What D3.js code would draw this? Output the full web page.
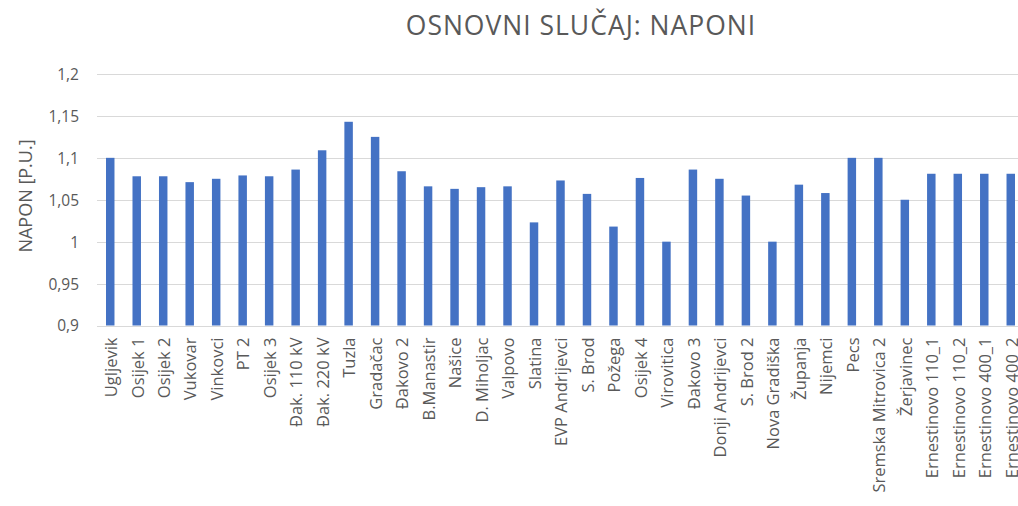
<!DOCTYPE html>
<html>
<head>
<meta charset="utf-8">
<script src="https://d3js.org/d3.v7.min.js"></script>
<style>
	body { margin: 0; background: #fff; }
	text { font-family: "Open Sans", "Noto Sans", sans-serif; fill: #595959; }
</style>
</head>
<body>
<script>
// substations (x axis categories)
var stations = ["Ugljevik", "Osijek 1", "Osijek 2", "Vukovar", "Vinkovci", "PT 2", "Osijek 3",
	"Đak. 110 kV", "Đak. 220 kV", "Tuzla", "Gradačac", "Đakovo 2", "B.Manastir", "Našice",
	"D. Miholjac", "Valpovo", "Slatina", "EVP Andrijevci", "S. Brod", "Požega", "Osijek 4",
	"Virovitica", "Đakovo 3", "Donji Andrijevci", "S. Brod 2", "Nova Gradiška", "Županja",
	"Nijemci", "Pecs", "Sremska Mitrovica 2", "Žerjavinec", "Ernestinovo 110_1",
	"Ernestinovo 110_2", "Ernestinovo 400_1", "Ernestinovo 400_2"];

// voltage in p.u.
var napon = [1.100, 1.078, 1.078, 1.071, 1.075, 1.079, 1.078,
	1.086, 1.109, 1.143, 1.125, 1.084, 1.066, 1.063,
	1.065, 1.066, 1.023, 1.073, 1.057, 1.018, 1.076,
	1.000, 1.086, 1.075, 1.055, 1.000, 1.068,
	1.058, 1.100, 1.100, 1.050, 1.081,
	1.081, 1.081, 1.081];

var yTicks = [0.9, 0.95, 1, 1.05, 1.1, 1.15, 1.2];
var title = "OSNOVNI SLUČAJ: NAPONI";
var yTitle = "NAPON [P.U.]";

var W = 1018, H = 506;
var plotLeft = 97, plotRight = 1024, plotTop = 74, plotBottom = 325.5;

var svg = d3.select("body").append("svg")
	.attr("width", W)
	.attr("height", H);

var x = d3.scaleBand()
	.domain(stations)
	.range([plotLeft, plotRight])
	.paddingInner(0.68)
	.paddingOuter(0.34);

var y = d3.scaleLinear()
	.domain([0.9, 1.2])
	.range([plotBottom, plotTop]);

var fmt = function(d) { return d3.format("~g")(d).replace(".", ","); };

// gridlines
svg.append("g")
	.selectAll("line")
	.data(yTicks)
	.enter().append("line")
	.attr("x1", plotLeft)
	.attr("x2", plotRight)
	.attr("y1", function(d) { return Math.round(y(d)) + 0.5; })
	.attr("y2", function(d) { return Math.round(y(d)) + 0.5; })
	.attr("stroke", "#d9d9d9")
	.attr("stroke-width", 1);

// y axis labels
var yAxis = svg.append("g")
	.attr("transform", "translate(" + (plotLeft - 18) + ",0)")
	.call(d3.axisLeft(y).tickValues(yTicks).tickFormat(fmt).tickSize(0));
yAxis.select(".domain").remove();
yAxis.selectAll("text")
	.attr("x", 0)
	.attr("dy", "0.35em")
	.style("font-size", "15.5px")
	.style("fill", "#595959");

// bars
svg.append("g")
	.selectAll("rect")
	.data(napon)
	.enter().append("rect")
	.attr("x", function(d, i) { return x(stations[i]); })
	.attr("width", x.bandwidth())
	.attr("y", function(d) { return y(d); })
	.attr("height", function(d) { return y(0.9) - y(d); })
	.attr("fill", "#4472c4");

// x axis labels
var xAxis = svg.append("g")
	.attr("transform", "translate(0," + plotBottom + ")")
	.call(d3.axisBottom(x).tickSize(0));
xAxis.select(".domain").remove();
xAxis.selectAll("text")
	.attr("transform", "rotate(-90)")
	.attr("x", -12)
	.attr("y", 1)
	.attr("dy", "0.35em")
	.style("text-anchor", "end")
	.style("font-size", "16.5px")
	.style("fill", "#595959");

// chart title
svg.append("text")
	.attr("x", 581)
	.attr("y", 35)
	.style("text-anchor", "middle")
	.style("font-size", "26.5px")
	.style("letter-spacing", "1px")
	.text(title);

// y axis title
svg.append("text")
	.attr("transform", "translate(32,196) rotate(-90)")
	.style("text-anchor", "middle")
	.style("font-size", "18px")
	.text(yTitle);
</script>
</body>
</html>
